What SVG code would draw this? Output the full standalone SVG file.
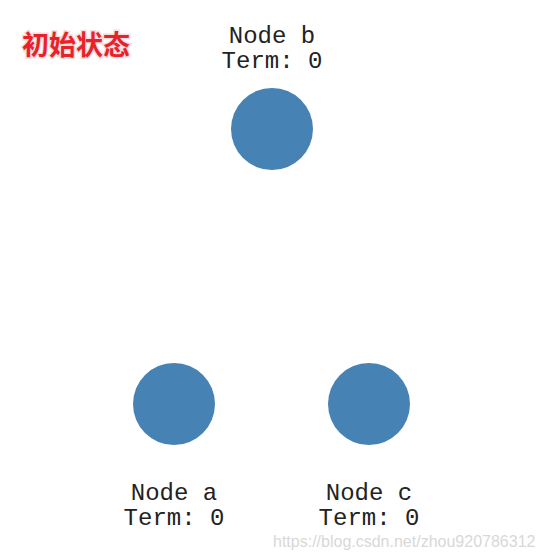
<svg xmlns="http://www.w3.org/2000/svg" width="543" height="558" viewBox="0 0 543 558">
<style>
.node circle{fill:#4682B4;}
.lbl{font-family:"Liberation Mono","DejaVu Sans Mono",monospace;font-size:24px;fill:#222;text-anchor:middle;}
.title{font-family:"Noto Sans CJK SC",sans-serif;font-weight:bold;font-size:27px;fill:#e8222a;stroke:#f4dede;stroke-width:3;paint-order:stroke;}
.wm{font-family:"Liberation Sans",Arial,sans-serif;font-size:16px;fill:#d8d8d8;}
</style>
<rect width="543" height="558" fill="#fff"/>
<text class="title" x="22" y="55">初始状态</text>
<g id="connectors"></g>
<g id="node-b" class="node">
<text class="lbl" x="272" y="43">Node b</text>
<text class="lbl" x="272" y="68">Term: 0</text>
<circle cx="272" cy="129" r="41"/>
</g>
<g id="node-a" class="node">
<circle cx="174" cy="404" r="41"/>
<text class="lbl" x="174" y="500">Node a</text>
<text class="lbl" x="174" y="525">Term: 0</text>
</g>
<g id="node-c" class="node">
<circle cx="369" cy="404" r="41"/>
<text class="lbl" x="369" y="500">Node c</text>
<text class="lbl" x="369" y="525">Term: 0</text>
</g>
<text class="wm" x="273" y="547">https://blog.csdn.net/zhou920786312</text>
</svg>
